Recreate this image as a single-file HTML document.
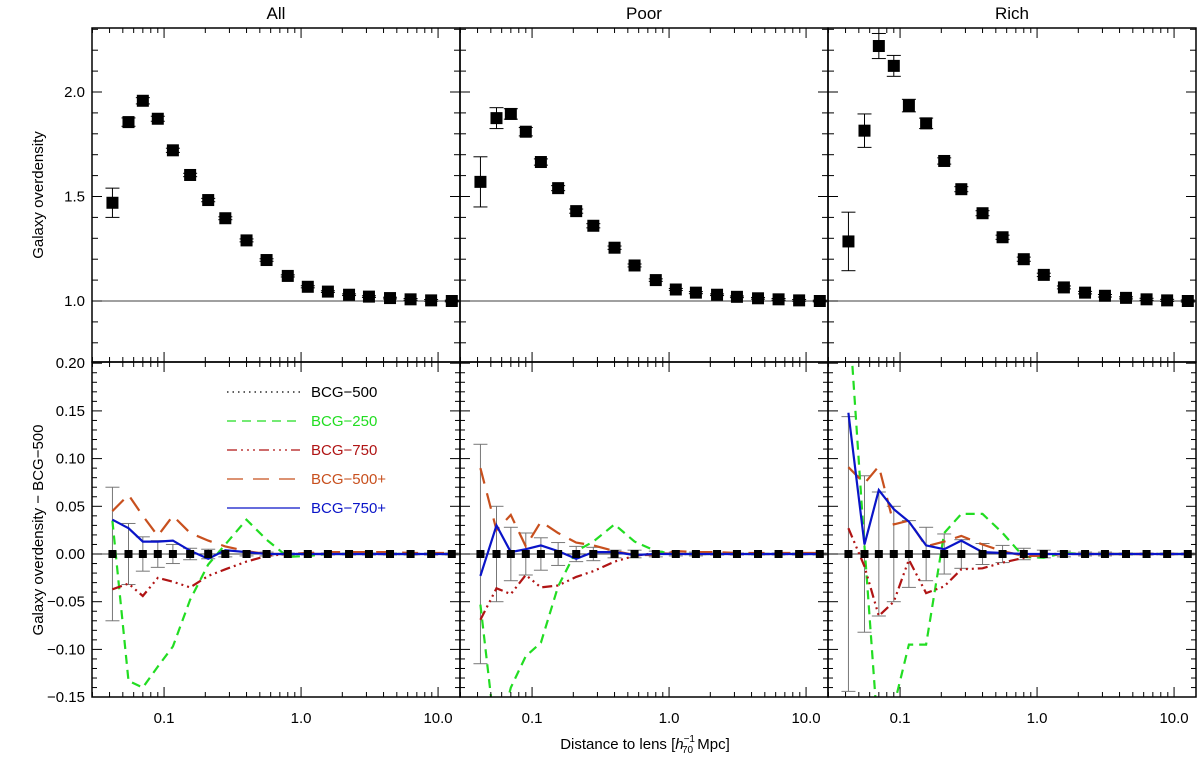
<!DOCTYPE html>
<html><head><meta charset="utf-8">
<style>
html,body{margin:0;padding:0;background:#fff;}
svg{display:block;font-family:"Liberation Sans",sans-serif;}
</style></head>
<body>
<svg id="chart" width="1200" height="758" viewBox="0 0 1200 758" xmlns="http://www.w3.org/2000/svg"></svg>
<script>
// ---------- data ----------
const distances = [0.042,0.055,0.070,0.090,0.116,0.155,0.21,0.28,0.40,0.56,0.80,1.12,1.57,2.24,3.13,4.46,6.3,8.9,12.6];
const panelTitles = ["All","Poor","Rich"];
const topAll  = [1.47,1.856,1.958,1.872,1.721,1.603,1.483,1.396,1.29,1.196,1.12,1.068,1.045,1.03,1.021,1.014,1.008,1.003,1.0];
const topPoor = [1.57,1.875,1.895,1.81,1.665,1.54,1.43,1.36,1.255,1.17,1.10,1.055,1.04,1.03,1.02,1.013,1.008,1.003,1.0];
const topRich = [1.285,1.815,2.22,2.125,1.935,1.85,1.67,1.535,1.42,1.305,1.20,1.125,1.065,1.04,1.025,1.015,1.008,1.003,1.0];
const topErrAll  = [0.07,0.02,0.015,0.012,0.01,0.008,0.008,0.007,0.007,0.006,0.005,0.005,0.004,0.004,0.004,0.004,0.004,0.004,0.004];
const topErrPoor = [0.12,0.05,0.025,0.02,0.015,0.012,0.01,0.01,0.008,0.007,0.006,0.005,0.005,0.004,0.004,0.004,0.004,0.004,0.004];
const topErrRich = [0.14,0.08,0.06,0.05,0.03,0.025,0.015,0.012,0.012,0.01,0.01,0.008,0.007,0.006,0.006,0.005,0.005,0.005,0.005];
// bottom: differences relative to BCG-500
const errAll  = [0.07,0.032,0.018,0.014,0.01,0.006,0.005,0.003,0.002,0.002,0.001,0.001,0.001,0.001,0.001,0.001,0.001,0.001,0.001];
const errPoor = [0.115,0.05,0.028,0.022,0.017,0.012,0.008,0.007,0.004,0.004,0.003,0.002,0.002,0.001,0.001,0.001,0.001,0.001,0.001];
const errRich = [0.144,0.082,0.065,0.05,0.035,0.028,0.021,0.015,0.011,0.009,0.006,0.004,0.003,0.002,0.002,0.001,0.001,0.001,0.001];
const b250All  = [0.035,-0.133,-0.14,-0.118,-0.097,-0.048,-0.011,0.01,0.036,0.015,-0.003,-0.002,0,0,0,0,0,0,0];
const b750All  = [-0.037,-0.031,-0.044,-0.025,-0.029,-0.035,-0.023,-0.016,-0.008,-0.002,0,0,0,0,0,0,0,0,0];
const b500pAll = [0.045,0.062,0.04,0.019,0.04,0.022,0.014,0.008,0.003,0,0,0.001,0.002,0.002,0.002,0.002,0.001,0.001,0.001];
const b750pAll = [0.036,0.027,0.013,0.013,0.014,0.0035,-0.005,0.004,0.002,0,0,0,0,0,0,0,0,0,0];
const b250Poor  = [-0.053,-0.2,-0.14,-0.107,-0.093,-0.034,0.003,0.013,0.031,0.013,0.003,0,0,0,0,0,0,0,0];
const b750Poor  = [-0.069,-0.036,-0.042,-0.022,-0.035,-0.033,-0.024,-0.018,-0.008,-0.002,0.001,0,0,0,0,0,0,0,0];
const b500pPoor = [0.09,0.025,0.041,0.008,0.034,0.022,0.012,0.009,0.003,-0.001,-0.001,0.003,0.002,0.002,0.001,0.001,0.001,0.001,0.001];
const b750pPoor = [-0.023,0.03,0.002,0.005,0.009,0.003,-0.005,0.002,0.002,-0.001,0,0,0,0,0,0,0,0,0];
const b250Rich  = [0.26,0.008,-0.2,-0.16,-0.095,-0.095,0.022,0.042,0.042,0.022,-0.003,-0.004,0.001,0,0,0,0,0,0];
const b750Rich  = [0.027,-0.013,-0.065,-0.05,-0.006,-0.041,-0.034,-0.016,-0.015,-0.009,-0.004,0,0,0,0,0,0,0,0];
const b500pRich = [0.091,0.074,0.092,0.031,0.035,0.008,0.013,0.019,0.01,0.003,-0.002,-0.002,0,0,0,0,0,0,0];
const b750pRich = [0.148,0.01,0.067,0.047,0.034,0.009,0.005,0.014,0.002,0.001,0,0,0,0,0,0,0,0,0];
const topTicks = [1.0,1.5,2.0];
const bottomTicks = [-0.15,-0.10,-0.05,0.00,0.05,0.10,0.15,0.20];
const xTicks = [0.1,1.0,10.0];
const legendLabels = ["BCG-500","BCG-250","BCG-750","BCG-500+","BCG-750+"];

// ---------- layout ----------
const NS="http://www.w3.org/2000/svg";
const svg=document.getElementById('chart');
const panelX=[92,460,828], PW=368;
const TOP0=28, MID=362, BOT=697;
function xs(p,v){return panelX[p]+(Math.log10(v)+1.526)*137;}
function yt(v){return 301-(v-1.0)*209;}
function yb(v){return 554-v*954;}
function el(tag,attrs,parent){const e=document.createElementNS(NS,tag);for(const k in attrs)e.setAttribute(k,attrs[k]);(parent||svg).appendChild(e);return e;}
function txt(s,x,y,attrs,parent){const t=el('text',Object.assign({x:x,y:y,'font-size':15,fill:'#000'},attrs||{}),parent);t.textContent=s;return t;}

const defs=el('defs',{});
for(let p=0;p<3;p++){
  const c=el('clipPath',{id:'clipT'+p},defs);el('rect',{x:panelX[p],y:TOP0,width:PW,height:MID-TOP0},c);
  const c2=el('clipPath',{id:'clipB'+p},defs);el('rect',{x:panelX[p],y:MID,width:PW,height:BOT-MID},c2);
}

const topData=[topAll,topPoor,topRich], topErr=[topErrAll,topErrPoor,topErrRich];
const errB=[errAll,errPoor,errRich];
const series=[[b250All,b750All,b500pAll,b750pAll],[b250Poor,b750Poor,b500pPoor,b750pPoor],[b250Rich,b750Rich,b500pRich,b750pRich]];
const styles=[
 {stroke:'#22dd22',dash:'9,6',w:2.2},
 {stroke:'#b01414',dash:'10,4,2,4,2,4,2,4',w:2.2},
 {stroke:'#c8501e',dash:'16,10',w:2.2},
 {stroke:'#0a14c8',dash:'',w:2.2}];
const seriesNames=['bcg-250-line','bcg-750-line','bcg-500plus-line','bcg-750plus-line'];

for(let p=0;p<3;p++){
  const x0=panelX[p];
  const g=el('g',{});
  
  
  const title=txt(panelTitles[p],x0+PW/2,19,{'text-anchor':'middle','font-size':17},g);
  
  
  el('line',{x1:x0,x2:x0+PW,y1:yt(1),y2:yt(1),stroke:'#000','stroke-width':0.8},g);
  el('line',{x1:x0,x2:x0+PW,y1:yb(0),y2:yb(0),stroke:'#000','stroke-width':0.8},g);
  const tg=el('g',{'clip-path':'url(#clipT'+p+')'},g);
  topData[p].forEach((v,i)=>{
    const cx=xs(p,distances[i]),e=topErr[p][i];
    el('line',{x1:cx,x2:cx,y1:yt(v+e),y2:yt(v-e),stroke:'#000','stroke-width':1},tg);
    el('line',{x1:cx-7,x2:cx+7,y1:yt(v+e),y2:yt(v+e),stroke:'#000','stroke-width':1},tg);
    el('line',{x1:cx-7,x2:cx+7,y1:yt(v-e),y2:yt(v-e),stroke:'#000','stroke-width':1},tg);
    const r=el('rect',{x:cx-6,y:yt(v)-6,width:12,height:12,fill:'#000'},tg);
    
    
  });
  const bg=el('g',{'clip-path':'url(#clipB'+p+')'},g);
  errB[p].forEach((e,i)=>{
    const cx=xs(p,distances[i]);
    el('line',{x1:cx,x2:cx,y1:yb(e),y2:yb(-e),stroke:'#777','stroke-width':1},bg);
    el('line',{x1:cx-7,x2:cx+7,y1:yb(e),y2:yb(e),stroke:'#777','stroke-width':1},bg);
    el('line',{x1:cx-7,x2:cx+7,y1:yb(-e),y2:yb(-e),stroke:'#777','stroke-width':1},bg);
  });
  series[p].forEach((arr,s)=>{
    const pts=arr.map((v,i)=>xs(p,distances[i]).toFixed(1)+','+yb(v).toFixed(1)).join(' ');
    const pl=el('polyline',{points:pts,fill:'none',stroke:styles[s].stroke,'stroke-width':styles[s].w,'stroke-dasharray':styles[s].dash},bg);
    
    
  });
  distances.forEach((d,i)=>{
    const cx=xs(p,d);
    const r=el('rect',{x:cx-4,y:yb(0)-4,width:8,height:8,fill:'#000'},bg);
    
    
  });
  el('rect',{x:x0,y:TOP0,width:PW,height:MID-TOP0,fill:'none',stroke:'#000','stroke-width':1.5},g);
  el('rect',{x:x0,y:MID,width:PW,height:BOT-MID,fill:'none',stroke:'#000','stroke-width':1.5},g);
  for(let dec=-2;dec<=1;dec++){
    for(let m=1;m<=9;m++){
      const v=m*Math.pow(10,dec);const x=xs(p,v);
      if(x<x0||x>x0+PW)continue;
      const L=m===1?10:5;
      [[TOP0,1],[MID,-1],[MID,1],[BOT,-1]].forEach(([y,d])=>el('line',{x1:x,x2:x,y1:y,y2:y+d*L,stroke:'#000','stroke-width':1},g));
    }
  }
  xTicks.forEach(v=>{
    const t=txt(v.toFixed(1),xs(p,v),723,{'text-anchor':'middle'},g);
    
    
  });
  for(let k=7;k<=23;k++){
    const v=k/10;const y=yt(v);if(y<TOP0||y>MID)continue;
    const L=(k%5===0)?10:6;
    el('line',{x1:x0,x2:x0+L,y1:y,y2:y,stroke:'#000','stroke-width':1},g);
    el('line',{x1:x0+PW,x2:x0+PW-L,y1:y,y2:y,stroke:'#000','stroke-width':1},g);
  }
  for(let k=-15;k<=20;k++){
    const v=k/100;const y=yb(v);if(y<MID||y>BOT)continue;
    const L=(k%5===0)?10:5;
    el('line',{x1:x0,x2:x0+L,y1:y,y2:y,stroke:'#000','stroke-width':1},g);
    el('line',{x1:x0+PW,x2:x0+PW-L,y1:y,y2:y,stroke:'#000','stroke-width':1},g);
  }
}
topTicks.forEach(v=>{
  const t=txt(v.toFixed(1),85,yt(v)+5,{'text-anchor':'end'});
  
  
});
bottomTicks.forEach(v=>{
  const s=(v<0?'−':'')+Math.abs(v).toFixed(2);
  const t=txt(s,85,yb(v)+5,{'text-anchor':'end'});
  
  
});
const yt1=txt('Galaxy overdensity',0,0,{'text-anchor':'middle',transform:'translate(43,195) rotate(-90)'});


const yt2=txt('Galaxy overdensity − BCG−500',0,0,{'text-anchor':'middle',transform:'translate(43,530) rotate(-90)'});


const xt=el('text',{x:645,y:749,'font-size':15,'text-anchor':'middle',fill:'#000'});


xt.innerHTML='Distance to lens [<tspan font-style="italic">h</tspan><tspan font-size="10" dy="-7">−1</tspan><tspan font-size="10" dx="-13" dy="11">70</tspan><tspan dy="-4"> Mpc]</tspan>';
const legColors=['#000','#22dd22','#b01414','#c8501e','#0a14c8'];
const legDash=['1.5,4','9,6','10,4,2,4,2,4,2,4','16,10',''];
const lg=el('g',{});


legendLabels.forEach((s,i)=>{
  const y=392+i*29;
  el('line',{x1:227,x2:300,y1:y,y2:y,stroke:legColors[i],'stroke-width':1.2,'stroke-dasharray':legDash[i]},lg);
  const t=txt(s.replace(/-/g,'−'),311,y+5,{fill:legColors[i]},lg);
  
  
});
</script>
</body></html>
